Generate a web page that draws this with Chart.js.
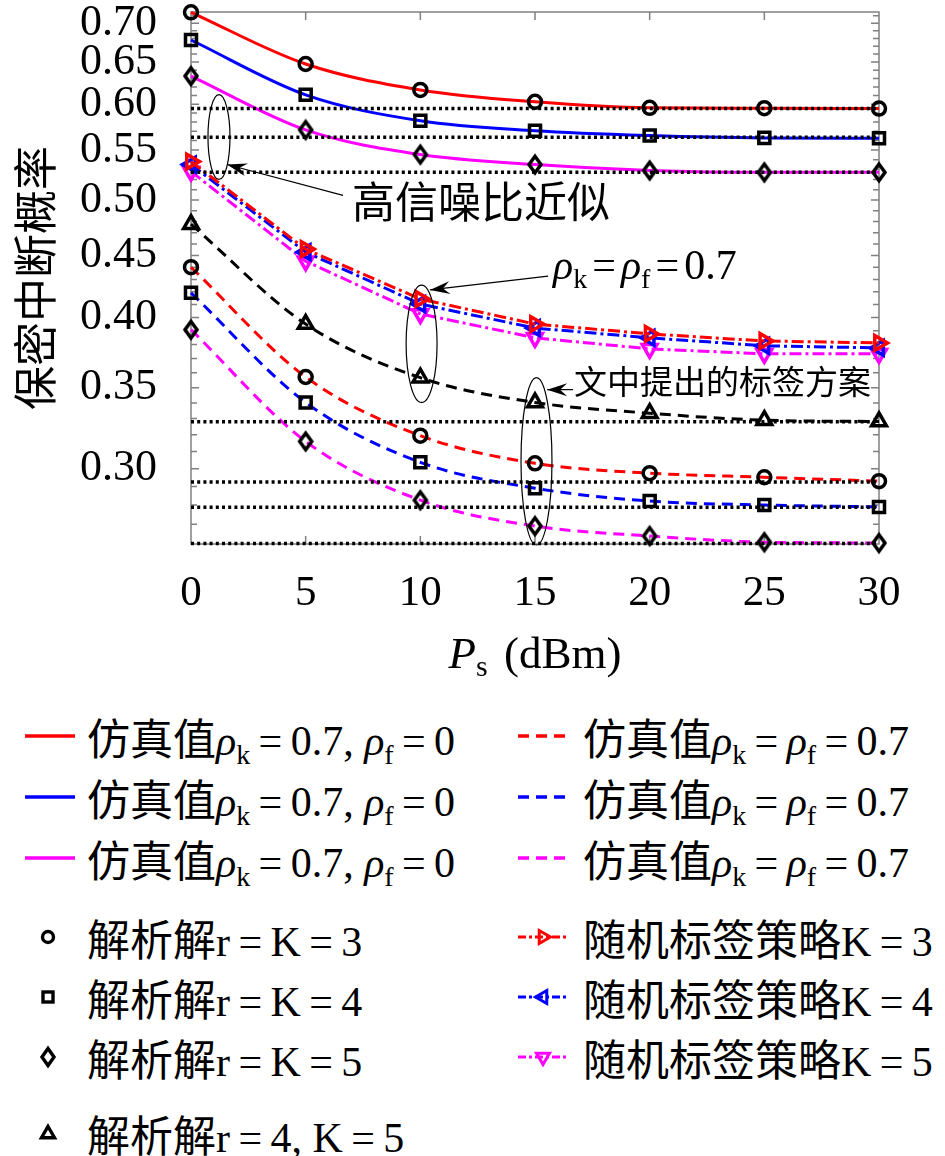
<!DOCTYPE html>
<html><head><meta charset="utf-8">
<script src="https://cdn.jsdelivr.net/npm/chart.js@4"></script>
<style>
html,body{margin:0;padding:0;background:#fff;}
#wrap{position:relative;width:945px;height:1156px;overflow:hidden;background:#fff;}
#c{position:absolute;left:0;top:0;}
.lg{position:absolute;font-family:"Liberation Serif","Noto Sans CJK SC",serif;font-size:42px;line-height:42px;height:42px;white-space:nowrap;color:#000;transform:translateY(-50%);}
.lg .cjk{font-family:"Noto Sans CJK SC",sans-serif;font-size:43px;}
.lg i{font-style:italic;}
.lg .sb{font-size:28px;position:relative;top:9px;}
.lg .eq{margin:0 0.2em;}
.ic{position:absolute;}
</style>
</head><body>
<div id="wrap">
<canvas id="c" width="945" height="700"></canvas>
</div>
<script>
// ---------------- data ----------------
const xVals = [0, 5, 10, 15, 20, 25, 30];
const xTickValues = [0, 5, 10, 15, 20, 25, 30];
const yTickValues = [0.26,0.27,0.28,0.29,0.30,0.31,0.32,0.33,0.34,0.35,0.36,0.37,0.38,0.39,0.40,0.41,0.42,0.43,0.44,0.45,0.46,0.47,0.48,0.49,0.50,0.51,0.52,0.53,0.54,0.55,0.56,0.57,0.58,0.59,0.60,0.61,0.62,0.63,0.64,0.65,0.66,0.67,0.68,0.69,0.70,0.71];
const yTickLabels = ['0.30','0.35','0.40','0.45','0.50','0.55','0.60','0.65','0.70'];

// 仿真值 / 解析解, rho_k=0.7, rho_f=0
const indepK3 = [0.7146, 0.6477, 0.6165, 0.6027, 0.5959, 0.5955, 0.5950];
const indepK4 = [0.6779, 0.6108, 0.5814, 0.5705, 0.5653, 0.5628, 0.5625];
const indepK5 = [0.6330, 0.5714, 0.5452, 0.5350, 0.5290, 0.5271, 0.5271];
// 仿真值 / 解析解, rho_k=rho_f=0.7
const corrK3 = [0.4401, 0.3572, 0.3195, 0.3031, 0.2975, 0.2952, 0.2930];
const corrK4 = [0.4192, 0.3403, 0.3037, 0.2891, 0.2821, 0.2800, 0.2790];
const corrK5 = [0.3908, 0.3160, 0.2826, 0.2690, 0.2640, 0.2609, 0.2605];
const corrR4K5 = [0.4776, 0.3950, 0.3567, 0.3403, 0.3334, 0.3290, 0.3282];
// 随机标签策略
const randK3 = [0.5380, 0.4555, 0.4143, 0.3950, 0.3877, 0.3825, 0.3811];
const randK4 = [0.5350, 0.4529, 0.4103, 0.3920, 0.3848, 0.3790, 0.3775];
const randK5 = [0.5279, 0.4452, 0.4027, 0.3848, 0.3768, 0.3733, 0.3733];
// 高信噪比近似 (asymptotes)
const asymptotes = [0.5950, 0.5634, 0.5273, 0.3280, 0.2925, 0.2788, 0.2602];

// annotations (data coordinates)
const ellipseBoxes = [
  {x0: 0.74, x1: 1.70, y0: 0.520, y1: 0.611},
  {x0: 9.38, x1: 10.73, y0: 0.3403, y1: 0.4253},
  {x0: 14.39, x1: 15.74, y0: 0.2595, y1: 0.3568}
];
const arrowLines = [
  {fx: 6.63, fy: 0.5045, tx: 1.57, ty: 0.5350},
  {fx: 15.57, fy: 0.4327, tx: 10.42, ty: 0.4215},
  {fx: 16.66, fy: 0.3487, tx: 15.53, ty: 0.3487}
];
const noteHighSNR = {text: '高信噪比近似', x: 7.02, y: 0.4987};
const noteRho = {x: 15.79, y: 0.4301};
const noteScheme = {text: '文中提出的标签方案', x: 16.70, y: 0.3539};

// ---------------- helpers ----------------
const RED = '#ff0000', BLUE = '#0000ff', MAG = '#ff00ff';
const SERIF = '"Liberation Serif", serif';
const CJK = '"Noto Sans CJK SC", sans-serif';
const MLW = 3.5; // marker line width

function pts(arr) { return xVals.map((x, i) => ({x: x, y: arr[i]})); }
function isMajor(v) { return yTickLabels.includes(v.toFixed(2)); }

function diamondCanvas(w, h, lw, color) {
  const c = document.createElement('canvas');
  c.width = Math.ceil(w + lw * 4); c.height = Math.ceil(h + lw * 4);
  const g = c.getContext('2d');
  g.strokeStyle = color; g.lineWidth = lw; g.lineJoin = 'miter';
  const cx = c.width / 2, cy = c.height / 2;
  g.beginPath();
  g.moveTo(cx, cy - h / 2); g.lineTo(cx + w / 2, cy); g.lineTo(cx, cy + h / 2); g.lineTo(cx - w / 2, cy);
  g.closePath(); g.stroke();
  return c;
}
const diamondImg = diamondCanvas(12, 16.5, MLW, '#000');

function simLine(arr, color, dash) {
  return {data: pts(arr), borderColor: color, borderWidth: 3, borderDash: dash, pointRadius: 0,
    cubicInterpolationMode: 'monotone', fill: false, clip: false, order: 3};
}
function markers(arr, style, radius) {
  return {data: pts(arr), showLine: false, pointStyle: style, pointRadius: radius, pointBorderWidth: MLW,
    pointBorderColor: '#000', pointBackgroundColor: 'rgba(0,0,0,0)', clip: false, order: 0};
}
function randLine(arr, color, rot) {
  return {data: pts(arr), borderColor: color, borderWidth: 3, borderDash: [12, 4, 3, 4], tension: 0,
    pointStyle: 'triangle', pointRotation: rot, pointRadius: 8.5, pointBorderWidth: MLW,
    pointBorderColor: color, pointBackgroundColor: 'rgba(0,0,0,0)', fill: false, clip: false, order: 2};
}
function asymLine(v) {
  return {data: [{x: 0, y: v}, {x: 30, y: v}], borderColor: '#000', borderWidth: 3.5, borderDash: [3, 3.2],
    pointRadius: 0, fill: false, clip: false, order: 1};
}

const datasets = [
  simLine(indepK3, RED, []), simLine(indepK4, BLUE, []), simLine(indepK5, MAG, []),
  simLine(corrK3, RED, [11, 7]), simLine(corrK4, BLUE, [11, 7]), simLine(corrK5, MAG, [11, 7]),
  simLine(corrR4K5, '#000', [11, 7]),
  randLine(randK3, RED, 90), randLine(randK4, BLUE, -90), randLine(randK5, MAG, 180),
  ...asymptotes.map(asymLine),
  markers(indepK3, 'circle', 6.5), markers(corrK3, 'circle', 6.5),
  markers(indepK4, 'rect', 7.8), markers(corrK4, 'rect', 7.8),
  markers(indepK5, diamondImg, 8), markers(corrK5, diamondImg, 8),
  markers(corrR4K5, 'triangle', 8.5)
];

function drawArrow(ctx, x1, y1, x2, y2) {
  ctx.beginPath(); ctx.moveTo(x1, y1); ctx.lineTo(x2, y2); ctx.stroke();
  const ang = Math.atan2(y2 - y1, x2 - x1);
  const L = 20, W = 6.5, N = 13;
  const ux = Math.cos(ang), uy = Math.sin(ang), px = -uy, py = ux;
  ctx.beginPath();
  ctx.moveTo(x2, y2);
  ctx.lineTo(x2 - ux * L + px * W, y2 - uy * L + py * W);
  ctx.lineTo(x2 - ux * N, y2 - uy * N);
  ctx.lineTo(x2 - ux * L - px * W, y2 - uy * L - py * W);
  ctx.closePath(); ctx.fill();
}
function drawRich(ctx, x, y, parts) {
  let cx = x;
  parts.forEach(p => {
    ctx.font = p.font;
    cx += (p.ml || 0);
    ctx.fillText(p.t, cx, y + (p.dy || 0));
    cx += ctx.measureText(p.t).width + (p.mr || 0);
  });
  return cx - x;
}
function measureRich(ctx, parts) {
  let w = 0;
  parts.forEach(p => { ctx.font = p.font; w += (p.ml || 0) + ctx.measureText(p.t).width + (p.mr || 0); });
  return w;
}

const decor = {
  id: 'decor',
  beforeDatasetsDraw(chart) {
    const {ctx, chartArea: a, scales: {x, y}} = chart;
    ctx.save();
    ctx.strokeStyle = '#808080'; ctx.lineWidth = 1.5;
    ctx.beginPath();
    ctx.rect(a.left, a.top, a.right - a.left, a.bottom - a.top);
    xTickValues.forEach(v => {
      const p = x.getPixelForValue(v);
      ctx.moveTo(p, a.bottom); ctx.lineTo(p, a.bottom - 8);
      ctx.moveTo(p, a.top); ctx.lineTo(p, a.top + 8);
    });
    yTickValues.forEach(v => {
      const p = y.getPixelForValue(v);
      const L = isMajor(v) ? 8 : 6;
      ctx.moveTo(a.left, p); ctx.lineTo(a.left + L, p);
      ctx.moveTo(a.right, p); ctx.lineTo(a.right - L, p);
    });
    ctx.stroke();
    ctx.restore();
  },
  afterDraw(chart) {
    const {ctx, chartArea: a, scales: {x, y}} = chart;
    ctx.save();
    ctx.strokeStyle = '#000'; ctx.fillStyle = '#000'; ctx.lineWidth = 1.2;
    ellipseBoxes.forEach(e => {
      const l = x.getPixelForValue(e.x0), r = x.getPixelForValue(e.x1);
      const t = y.getPixelForValue(e.y1), b = y.getPixelForValue(e.y0);
      ctx.beginPath();
      ctx.ellipse((l + r) / 2, (t + b) / 2, (r - l) / 2, (b - t) / 2, 0, 0, Math.PI * 2);
      ctx.stroke();
    });
    arrowLines.forEach(ar => {
      drawArrow(ctx, x.getPixelForValue(ar.fx), y.getPixelForValue(ar.fy), x.getPixelForValue(ar.tx), y.getPixelForValue(ar.ty));
    });
    // text notes
    ctx.textBaseline = 'middle'; ctx.textAlign = 'left';
    ctx.font = '43px ' + CJK;
    ctx.fillText(noteHighSNR.text, x.getPixelForValue(noteHighSNR.x), y.getPixelForValue(noteHighSNR.y));
    ctx.font = '33px ' + CJK;
    ctx.fillText(noteScheme.text, x.getPixelForValue(noteScheme.x), y.getPixelForValue(noteScheme.y));
    ctx.textBaseline = 'alphabetic';
    const F = '42px ' + SERIF, FI = 'italic 42px ' + SERIF, FS = '28px ' + SERIF;
    drawRich(ctx, x.getPixelForValue(noteRho.x), y.getPixelForValue(noteRho.y), [
      {t: 'ρ', font: FI}, {t: 'k', font: FS, dy: 9}, {t: '=', font: F, ml: 5, mr: 5},
      {t: 'ρ', font: FI}, {t: 'f', font: FS, dy: 9}, {t: '=', font: F, ml: 5, mr: 5},
      {t: '0.7', font: F}
    ]);
    // x axis title
    const tParts = [
      {t: 'P', font: 'italic 45px ' + SERIF}, {t: 's', font: '30px ' + SERIF, dy: 8, mr: 5},
      {t: ' (dBm)', font: '45px ' + SERIF}
    ];
    const w = measureRich(ctx, tParts);
    drawRich(ctx, (a.left + a.right) / 2 - w / 2, 668, tParts);
    ctx.restore();
  }
};

new Chart(document.getElementById('c'), {
  type: 'line',
  data: {datasets: datasets},
  plugins: [decor],
  options: {
    responsive: false, animation: false, events: [],
    layout: {padding: {left: 0, top: 10, right: 66, bottom: 0}},
    plugins: {legend: {display: false}, tooltip: {enabled: false}},
    scales: {
      x: {
        type: 'linear', min: 0, max: 30,
        grid: {display: false, drawTicks: false}, border: {display: false},
        afterBuildTicks: s => { s.ticks = xTickValues.map(v => ({value: v})); },
        afterFit: s => { s.height = 156; s.paddingLeft = 0; s.paddingRight = 0; },
        ticks: {padding: 24, color: '#000', font: {family: 'Liberation Serif', size: 43}, autoSkip: false, maxRotation: 0,
          callback: v => String(v)}
      },
      y: {
        type: 'logarithmic', min: 0.26, max: 0.715,
        grid: {display: false, drawTicks: false}, border: {display: false},
        afterBuildTicks: s => { s.ticks = yTickValues.map(v => ({value: v})); },
        afterFit: s => { s.width = 191; s.paddingTop = 0; s.paddingBottom = 0; },
        ticks: {padding: 34, color: '#000', font: {family: 'Liberation Serif', size: 44}, autoSkip: false,
          callback: v => { const s = Number(v).toFixed(2); return yTickLabels.includes(s) ? s : ''; }},
        title: {display: true, text: '保密中断概率', color: '#000', padding: {top: 9, bottom: 0},
          font: {family: 'Noto Sans CJK SC', size: 44, weight: 'normal'}}
      }
    }
  }
});

// ---------------- legend (HTML) ----------------
const legendRowsY = [736, 797, 858, 937, 997, 1057, 1133];
function rho(s) { return '<i>ρ</i><span class="sb">' + s + '</span>'; }
const EQ = '<span class="eq">=</span>';
const C = t => '<span class="cjk">' + t + '</span>';
const legendLeft = [
  {kind: 'line', color: RED, dash: null, html: C('仿真值') + rho('k') + EQ + '0.7, ' + rho('f') + EQ + '0'},
  {kind: 'line', color: BLUE, dash: null, html: C('仿真值') + rho('k') + EQ + '0.7, ' + rho('f') + EQ + '0'},
  {kind: 'line', color: MAG, dash: null, html: C('仿真值') + rho('k') + EQ + '0.7, ' + rho('f') + EQ + '0'},
  {kind: 'circle', html: C('解析解') + 'r' + EQ + 'K' + EQ + '3'},
  {kind: 'square', html: C('解析解') + 'r' + EQ + 'K' + EQ + '4'},
  {kind: 'diamond', html: C('解析解') + 'r' + EQ + 'K' + EQ + '5'},
  {kind: 'tri', html: C('解析解') + 'r' + EQ + '4, K' + EQ + '5'}
];
const legendRight = [
  {kind: 'line', color: RED, dash: '11,7', html: C('仿真值') + rho('k') + EQ + rho('f') + EQ + '0.7'},
  {kind: 'line', color: BLUE, dash: '11,7', html: C('仿真值') + rho('k') + EQ + rho('f') + EQ + '0.7'},
  {kind: 'line', color: MAG, dash: '11,7', html: C('仿真值') + rho('k') + EQ + rho('f') + EQ + '0.7'},
  {kind: 'rand', color: RED, rot: 90, html: C('随机标签策略') + 'K' + EQ + '3'},
  {kind: 'rand', color: BLUE, rot: -90, html: C('随机标签策略') + 'K' + EQ + '4'},
  {kind: 'rand', color: MAG, rot: 180, html: C('随机标签策略') + 'K' + EQ + '5'}
];
function triPts(cx, cy, r, rotDeg) {
  const out = [];
  for (let k = 0; k < 3; k++) {
    const a = (rotDeg + k * 120) * Math.PI / 180;
    out.push((cx + Math.sin(a) * r).toFixed(2) + ',' + (cy - Math.cos(a) * r).toFixed(2));
  }
  return out.join(' ');
}
function iconSVG(it) {
  const W = 60, H = 26, cy = 13, mx = 28;
  let s = '<svg xmlns="http://www.w3.org/2000/svg" width="' + W + '" height="' + H + '">';
  if (it.kind === 'line') {
    s += '<line x1="5" y1="' + cy + '" x2="55" y2="' + cy + '" stroke="' + it.color + '" stroke-width="3.5"' + (it.dash ? ' stroke-dasharray="' + it.dash + '"' : '') + '/>';
  } else if (it.kind === 'rand') {
    s += '<line x1="5" y1="' + cy + '" x2="55" y2="' + cy + '" stroke="' + it.color + '" stroke-width="3" stroke-dasharray="8,3,3,3"/>';
    s += '<polygon points="' + triPts(30, cy, 7.5, it.rot) + '" fill="none" stroke="' + it.color + '" stroke-width="3"/>';
  } else if (it.kind === 'circle') {
    s += '<circle cx="' + mx + '" cy="' + cy + '" r="5.5" fill="none" stroke="#000" stroke-width="3.4"/>';
  } else if (it.kind === 'square') {
    s += '<rect x="' + (mx - 5) + '" y="' + (cy - 5) + '" width="10" height="10" fill="none" stroke="#000" stroke-width="3.4"/>';
  } else if (it.kind === 'diamond') {
    s += '<polygon points="' + mx + ',' + (cy - 8.5) + ' ' + (mx + 6) + ',' + cy + ' ' + mx + ',' + (cy + 8.5) + ' ' + (mx - 6) + ',' + cy + '" fill="none" stroke="#000" stroke-width="3.4"/>';
  } else if (it.kind === 'tri') {
    s += '<polygon points="' + triPts(mx, cy + 1, 7.5, 0) + '" fill="none" stroke="#000" stroke-width="3.4"/>';
  }
  return s + '</svg>';
}
const wrap = document.getElementById('wrap');
function addLegend(items, iconLeft, textLeft) {
  items.forEach((it, i) => {
    const yc = legendRowsY[i];
    const ic = document.createElement('div');
    ic.className = 'ic';
    ic.style.left = iconLeft + 'px'; ic.style.top = (yc - 13) + 'px';
    ic.innerHTML = iconSVG(it);
    wrap.appendChild(ic);
    const t = document.createElement('div');
    t.className = 'lg';
    t.style.left = textLeft + 'px'; t.style.top = yc + 'px';
    t.innerHTML = it.html;
    wrap.appendChild(t);
  });
}
addLegend(legendLeft, 20, 87);
addLegend(legendRight, 513, 583);
</script>
</body></html>
